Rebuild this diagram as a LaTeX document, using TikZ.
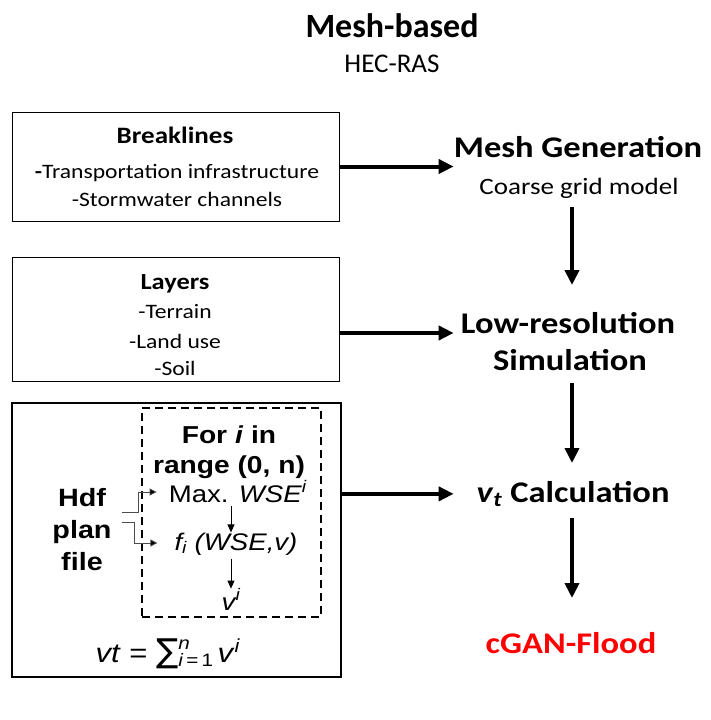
\documentclass[tikz,border=0pt]{standalone}
\usepackage{fontspec}
\setmainfont{Carlito}[FakeStretch=1.15]
\newfontfamily\titlefont{Carlito}
\newfontfamily\arialfont{Liberation Sans}[FakeStretch=1.15]
\newfontfamily\symfont{DejaVu Sans}
\usepackage{tikz}
\usetikzlibrary{positioning, calc, arrows.meta}

\newcommand{\fsz}[1]{\fontsize{#1}{#1}\selectfont}

\begin{document}
\begin{tikzpicture}[x=1pt, y=-1pt,
    txt/.style={inner sep=0pt, anchor=base},
    box/.style={draw, line width=1pt, inner sep=0pt},
    bigarrow/.style={line width=4pt, -{Triangle[length=15pt, width=14pt]}},
    smallarrow/.style={line width=0.8pt, -{Triangle[length=8pt, width=7pt]}},
    elbow/.style={line width=0.8pt, draw=black!70, -{Triangle[length=7pt, width=7pt, fill=black]}}]

    \useasboundingbox (0,0) rectangle (711,720);

    % Title
    \node[txt, font=\titlefont\fsz{34}\bfseries] (title) at (392,37) {Mesh-based};
    \node[txt, font=\titlefont\fsz{27}] (hecras) at (392,72) {HEC-RAS};

    % Left boxes
    \node[box, minimum width=327pt, minimum height=109pt] (brk) at (175.5,166.5) {};
    \node[txt, font=\fsz{23.5}\bfseries] (brkhead) at (175,143) {Breaklines};
    \node[txt, font=\fsz{20.5}] (brkone) at (177,178) {\textbf{-}Transportation infrastructure};
    \node[txt, font=\fsz{20.5}] (brktwo) at (177,206) {-Stormwater channels};

    \node[box, minimum width=327pt, minimum height=124pt] (lay) at (175.5,319) {};
    \node[txt, font=\fsz{23}\bfseries] (layhead) at (175,289) {Layers};
    \node[txt, font=\fsz{20.5}] (layone) at (175,318) {-Terrain};
    \node[txt, font=\fsz{20.5}] (laytwo) at (175,348) {-Land use};
    \node[txt, font=\fsz{20.5}] (laythree) at (175,375) {-Soil};

    % Hdf box with the loop
    \node[box, line width=1.6pt, minimum width=329pt, minimum height=274pt] (hdfbox) at (176.5,540) {};
    \node[box, line width=1.4pt, dash pattern=on 8pt off 5pt, minimum width=179pt, minimum height=209pt] (loop) at (231.5,512.5) {};
    \node[font=\arialfont\bfseries\fontsize{25}{32}\selectfont, align=center, inner sep=0pt] (hdf) at (82,530) {Hdf\\plan\\file};
    \node[txt, font=\arialfont\fsz{24.5}\bfseries] (fori) at (229,443) {For \textit{i} in};
    \node[txt, font=\arialfont\fsz{24.5}\bfseries] (range) at (229,473) {range (0, n)};
    \node[txt, font=\arialfont\fsz{24}] (maxwse) at (238,502) {Max. \textit{WSE}\textsuperscript{\textit{i}}};
    \node[txt, font=\arialfont\fsz{24}\itshape] (fwse) at (236,550) {f\textsubscript{i} (WSE,v)};
    \node[txt, font=\arialfont\fsz{24}\itshape] (vi) at (231,610) {v\textsuperscript{i}};
    \node[txt, font=\arialfont\fsz{27}] (vtsum) at (168,662)
        {\textit{vt} = {\symfont\fsz{33}∑}\raisebox{13pt}{\rlap{\fsz{18}\textit{n}}}\raisebox{-4pt}{\fsz{18}\textit{i}\,=\,1}\,\textit{v}\textsuperscript{\textit{i}}};

    \draw[elbow] ([xshift=10pt, yshift=18pt]hdf.east) -- ++(17,0) |- ([xshift=-12pt, yshift=10pt]maxwse.base west);
    \draw[elbow] ([xshift=10pt, yshift=8pt]hdf.east) -- ++(13,0) |- ([xshift=-17pt, yshift=7pt]fwse.base west);
    \draw[smallarrow, shorten <=4pt] (maxwse.south -| vi.south) -- (fwse.north -| vi.south);
    \draw[smallarrow, shorten <=4pt] (fwse.south -| vi.south) -- (vi.north);

    % Right column
    \node[txt, font=\fsz{30}\bfseries] (meshgen) at (578,157) {Mesh Generation};
    \node[txt, font=\fsz{23.5}] (coarse) at (579,194) {Coarse grid model};
    \node[txt, font=\fsz{30}\bfseries] (lowres) at (568,333) {Low-resolution};
    \node[txt, font=\fsz{30}\bfseries] (simul) at (570,370) {Simulation};
    \node[txt, font=\fsz{30}\bfseries] (vtcalc) at (573,502) {\textit{v}\textsubscript{\textit{t}} Calculation};
    \node[txt, font=\fsz{30}\bfseries, text=red] (cgan) at (571,653) {cGAN-Flood};

    % Arrows
    \draw[bigarrow] (brk.east) -- (brk.east -| meshgen.west);
    \draw[bigarrow] (lay.east |- lowres.base) -- (meshgen.west |- lowres.base);
    \draw[bigarrow] (hdfbox.east |- vtcalc.west) -- (meshgen.west |- vtcalc.west);
    \draw[bigarrow] ([xshift=-7pt, yshift=-13pt]coarse.base) -- ([xshift=4pt, yshift=48pt]lowres.base);
    \draw[bigarrow] ([xshift=2pt, yshift=-13pt]simul.base) -- ([xshift=-1pt, yshift=39pt]vtcalc.base);
    \draw[bigarrow] ([xshift=-1pt, yshift=-16pt]vtcalc.base) -- ([xshift=1pt, yshift=55pt]cgan.base);

\end{tikzpicture}
\end{document}
